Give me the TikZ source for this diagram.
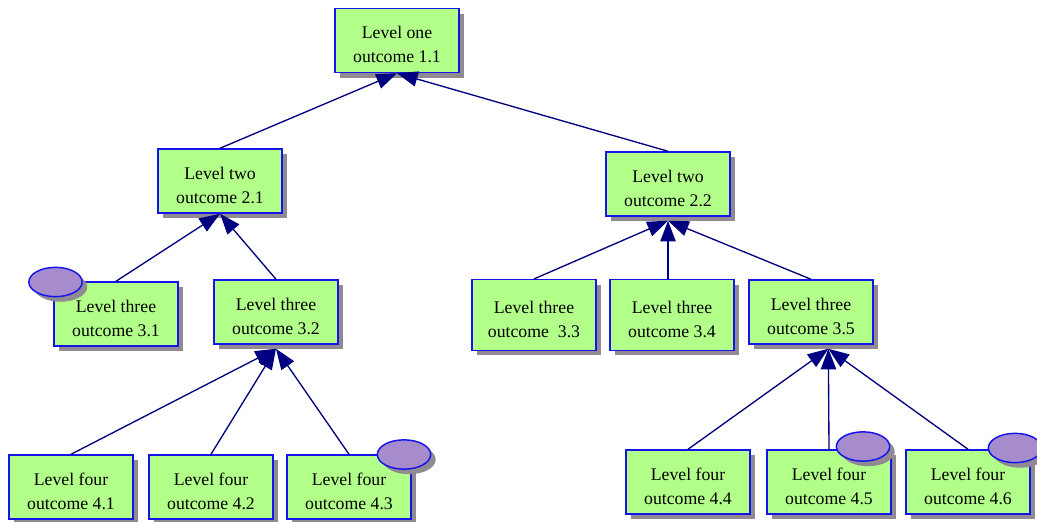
\documentclass[tikz,border=0pt]{standalone}
\usepackage{fontspec}
\setmainfont{Liberation Serif}
\usepackage{tikz}
\usetikzlibrary{shapes.geometric}
\usetikzlibrary{shadows}
\usetikzlibrary{arrows.meta}

\definecolor{boxgreen}{RGB}{178,255,138}
\definecolor{boxblue}{RGB}{20,20,235}
\definecolor{shadegray}{RGB}{146,138,146}
\definecolor{badgepurple}{RGB}{166,140,204}
\definecolor{linknavy}{RGB}{0,0,128}

\begin{document}
\begin{tikzpicture}[x=0.75pt,y=-0.75pt,
  outcome/.style={draw=boxblue,line width=1.1pt,fill=boxgreen,
    minimum width=93pt,minimum height=48pt,inner sep=0pt,align=center,
    font=\fontsize{13.3}{18}\selectfont,
    text height=36.5pt,text depth=3pt,
    drop shadow={shadow xshift=3.8pt,shadow yshift=-3.8pt,fill=shadegray,opacity=1}},
  tallbox/.style={outcome,minimum height=53pt},
  badge/.style={ellipse,draw=boxblue,line width=1.1pt,fill=badgepurple,
    minimum width=40pt,minimum height=22pt,inner sep=0pt,
    drop shadow={shadow xshift=3.8pt,shadow yshift=-3.8pt,fill=shadegray,opacity=1}},
  link/.style={draw=linknavy,line width=1pt,-{Triangle[length=15.5pt,width=11.5pt]}}]

\useasboundingbox (0,0) rectangle (1037,521);

% --- Livello uno e due
\node[outcome] (o11) at (397,40.5) {Level one\\outcome 1.1};
\node[outcome] (o21) at (220,181) {Level two\\outcome 2.1};
\node[outcome] (o22) at (668,184) {Level two\\outcome 2.2};

% --- Livello tre
\node[outcome] (o31) at (116,314) {Level three\\outcome 3.1};
\node[outcome] (o32) at (276,312) {Level three\\outcome 3.2};
\node[tallbox] (o33) at (534,315) {Level three\\outcome\ \ 3.3};
\node[tallbox] (o34) at (672,315) {Level three\\outcome 3.4};
\node[outcome] (o35) at (811,312) {Level three\\outcome 3.5};

% --- Livello quattro
\node[outcome] (o41) at (71,487) {Level four\\outcome 4.1};
\node[outcome] (o42) at (211,487) {Level four\\outcome 4.2};
\node[outcome] (o43) at (349,487) {Level four\\outcome 4.3};
\node[outcome] (o44) at (688,482) {Level four\\outcome 4.4};
\node[outcome] (o45) at (829,482) {Level four\\outcome 4.5};
\node[outcome] (o46) at (968,482) {Level four\\outcome 4.6};

% --- Frecce verso il genitore
\draw[link] (o21.north) -- (o11.south);
\draw[link] (o22.north) -- (o11.south);
\draw[link] (o31.north) -- (o21.south);
\draw[link] (o32.north) -- (o21.south);
\draw[link] (o33.north) -- ([yshift=-3pt]o22.south);
\draw[link] ([xshift=-3pt]o34.north) -- ([yshift=-3pt]o22.south);
\draw[link] (o35.north) -- ([yshift=-3pt]o22.south);
\draw[link] (o41.north) -- ([yshift=-3pt]o32.south);
\draw[link] (o42.north) -- ([yshift=-3pt]o32.south);
\draw[link] (o43.north) -- ([yshift=-3pt]o32.south);
\draw[link] (o44.north) -- ([xshift=13pt,yshift=-3pt]o35.south);
\draw[link] (o45.north) -- ([xshift=13pt,yshift=-3pt]o35.south);
\draw[link] (o46.north) -- ([xshift=13pt,yshift=-3pt]o35.south);

% --- Ellissi
\node[badge] (b31) at (55.5,282) {};
\node[badge] (b43) at (404,454.5) {};
\node[badge] (b45) at (863,446.5) {};
\node[badge] (b46) at (1015,448) {};

\end{tikzpicture}
\end{document}
